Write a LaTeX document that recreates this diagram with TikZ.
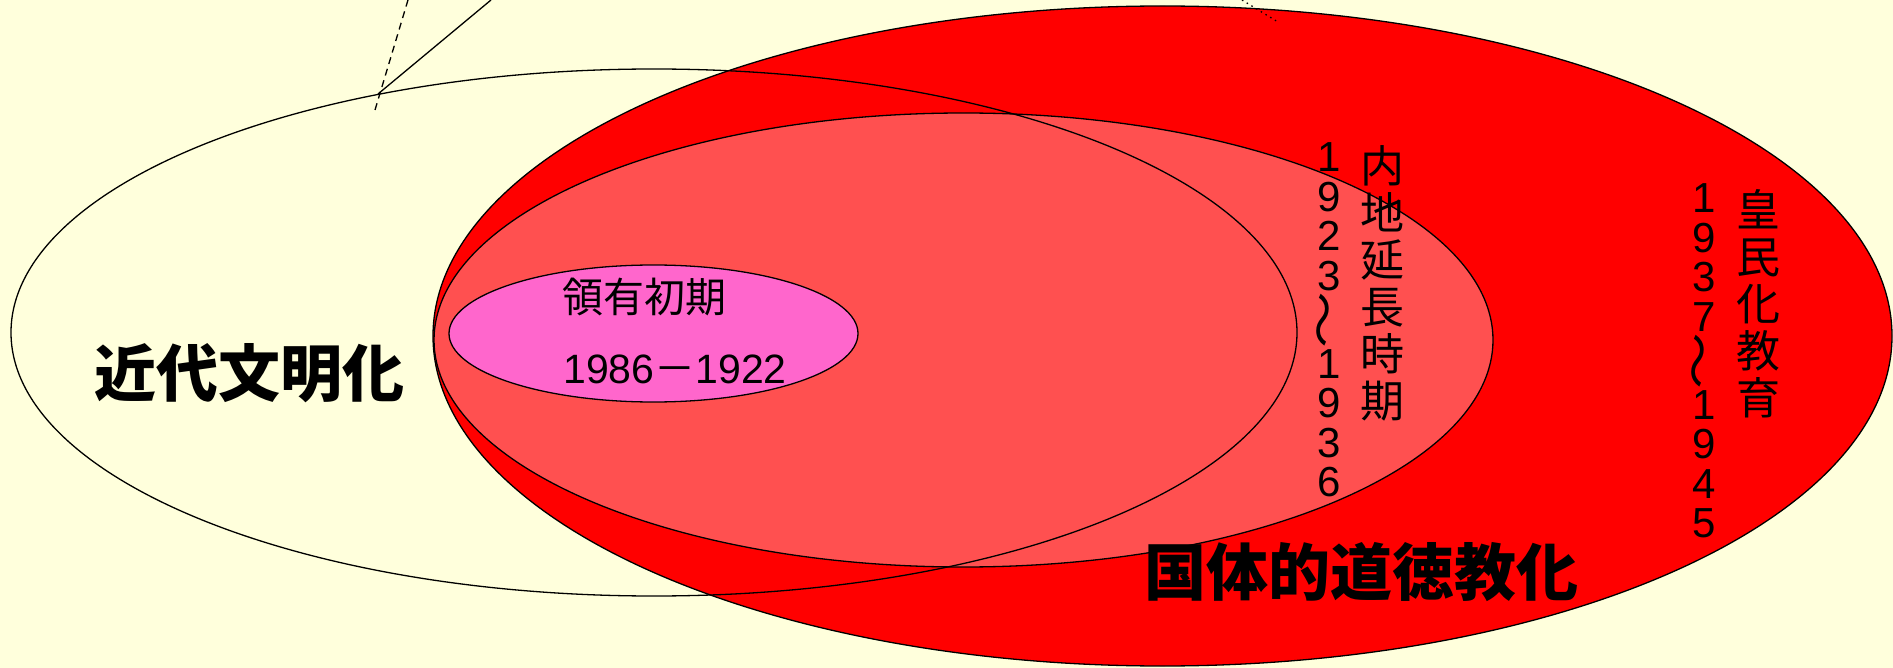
\documentclass[tikz,border=0pt]{standalone}
\usepackage{fontspec}
\usepackage{graphicx}
\usetikzlibrary{shapes.geometric}
\newfontfamily\cjk{Noto Sans CJK JP}
\newfontfamily\arialish{Liberation Sans}
\definecolor{bgyellow}{HTML}{FFFFDC}
\definecolor{bigred}{HTML}{FF0000}
\definecolor{midred}{HTML}{FF5050}
\definecolor{pinkfill}{HTML}{FF66CC}
\tikzset{
  oval/.style={ellipse, draw=black, line width=1.3pt, inner sep=0pt},
  bigtext/.style={font=\cjk\bfseries\fontsize{62}{62}\selectfont, inner sep=0pt},
  midtext/.style={font=\cjk\fontsize{41}{41}\selectfont, inner sep=0pt},
  vtext/.style={font=\cjk\fontsize{44}{47}\selectfont, align=center, inner sep=0pt},
  vnum/.style={font=\arialish\fontsize{42}{39.5}\selectfont, align=center, inner sep=0pt},
}
\newcommand{\vwave}{\rotatebox[origin=c]{90}{\scalebox{1.35}[1.1]{\cjk ～}}}
\begin{document}
\begin{tikzpicture}[x=1pt,y=-1pt]
\useasboundingbox (0,0) rectangle (1893,668);
\fill[bgyellow] (0,0) rectangle (1893,668);
\begin{scope}
\clip (0,0) rectangle (1893,668);
\node[oval, fill=bigred, minimum width=1459pt, minimum height=660pt] (big) at (1162.5,336) {};
\node[oval, fill=midred, minimum width=1059pt, minimum height=454pt] (mid) at (963.5,340) {};
\node[oval, fill=pinkfill, minimum width=409pt, minimum height=137pt] (pink) at (653.5,333.5) {};
\node[oval, minimum width=1286pt, minimum height=527pt] (pale) at (654,332.5) {};
\coordinate (sA) at (378,94);
\coordinate (sB) at (491,0);
\coordinate (dA) at (375,110);
\coordinate (dB) at (408,0);
\coordinate (tA) at (1242,0);
\coordinate (tB) at (1278,22);
\draw[line width=1.3pt] (sA) -- (sB);
\draw[line width=1.3pt, dash pattern=on 7pt off 5pt] (dA) -- (dB);
\draw[line width=1.3pt, dash pattern=on 1.5pt off 4pt] (tA) -- (tB);
\end{scope}
\node[bigtext] (modern) at (249,373) {近代文明化};
\node[bigtext] (moral) at (1361,572) {国体的道徳教化};
\node[midtext] (early) at (644,297) {領有初期};
\node[midtext] (earlyyr) at (675,369) {{\arialish 1986}－{\arialish 1922}};
\node[vtext] (naichi) at (1382,283) {内\\地\\延\\長\\時\\期};
\node[vnum] (naichiyr) at (1329,320) {1\\9\\2\\3\\\vwave\\1\\9\\3\\6};
\node[vtext] (kominka) at (1758,304) {皇\\民\\化\\教\\育};
\node[vnum] (kominkayr) at (1704,361) {1\\9\\3\\7\\\vwave\\1\\9\\4\\5};
\end{tikzpicture}
\end{document}
